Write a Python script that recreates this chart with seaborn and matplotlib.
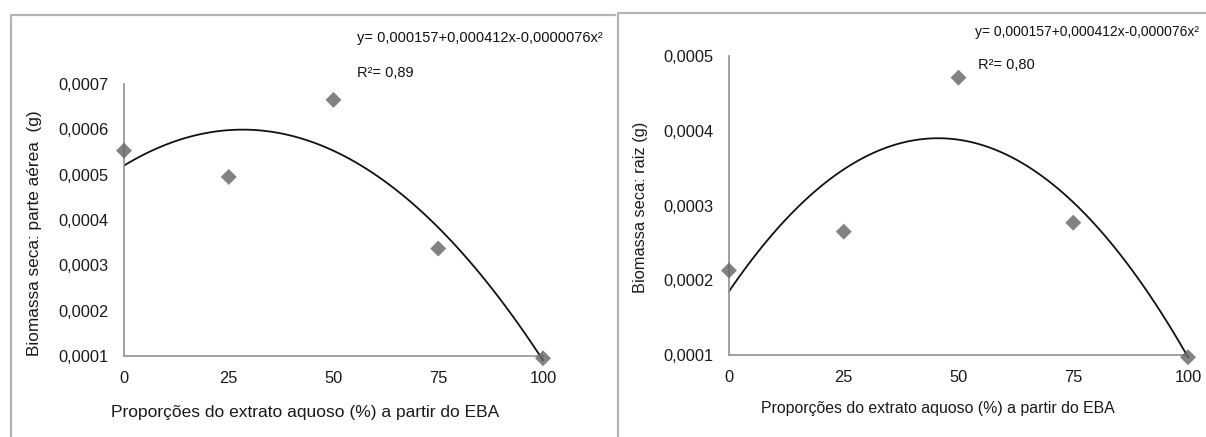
import matplotlib
matplotlib.use("Agg")
import matplotlib.pyplot as plt
from matplotlib.lines import Line2D
from matplotlib.ticker import FuncFormatter
import seaborn as sns
import pandas as pd

# ---- data ----
proporcoes = [0, 25, 50, 75, 100]
parte_aerea = [0.000553, 0.000495, 0.000665, 0.000337, 0.000095]
raiz = [0.000213, 0.000265, 0.000471, 0.000277, 0.000097]
x_ticks = [0, 25, 50, 75, 100]
y_ticks_left = [0.0001, 0.0002, 0.0003, 0.0004, 0.0005, 0.0006, 0.0007]
y_ticks_right = [0.0001, 0.0002, 0.0003, 0.0004, 0.0005]
eq_left = "y= 0,000157+0,000412x-0,0000076x²"
eq_right = "y= 0,000157+0,000412x-0,000076x²"
r2_left = "R²= 0,89"
r2_right = "R²= 0,80"
xlabel = "Proporções do extrato aquoso (%) a partir do EBA"
ylabel_left = "Biomassa seca: parte aérea  (g)"
ylabel_right = "Biomassa seca: raiz (g)"

sns.set_style("white")
plt.rcParams['font.family'] = ['Liberation Sans', 'DejaVu Sans']

W, H = 1206, 437
fig = plt.figure(figsize=(W / 100, H / 100), dpi=100)

def fx(px):
    return px / W

def fy(py):
    return 1 - py / H

frame_kw = dict(transform=fig.transFigure, color='#b4b4b4', linewidth=1.6)
# left panel frame (left + top edges)
fig.lines.append(Line2D([fx(11), fx(11), fx(615)], [fy(440), fy(15), fy(15)], **frame_kw))
# right panel frame (left + top edges)
fig.lines.append(Line2D([fx(618), fx(618), fx(1210)], [fy(440), fy(13), fy(13)], **frame_kw))

ax1 = fig.add_axes([fx(124), fy(356), fx(543) - fx(124), fy(84) - fy(356)])
ax2 = fig.add_axes([fx(729), fy(355), fx(1188) - fx(729), fy(56) - fy(355)])

df = pd.DataFrame({"x": proporcoes, "aerea": parte_aerea, "raiz": raiz})

comma_fmt = FuncFormatter(lambda v, p: f"{v:.4f}".replace(".", ","))

def style(ax, yticks, ylabel, xl_size, yl_size, xl_pos, yl_pos):
    ax.set_xlim(0, 100)
    ax.set_ylim(yticks[0], yticks[-1])
    ax.set_xticks(x_ticks)
    ax.set_yticks(yticks)
    ax.yaxis.set_major_formatter(comma_fmt)
    for s in ['top', 'right']:
        ax.spines[s].set_visible(False)
    for s in ['left', 'bottom']:
        ax.spines[s].set_color('#9a9a9a')
        ax.spines[s].set_linewidth(1.3)
    ax.tick_params(axis='both', direction='out', length=5, width=1.2,
                   color='#9a9a9a', labelsize=11.8, labelcolor='#1a1a1a', pad=6)
    ax.set_xlabel(xlabel, fontsize=xl_size, color='#1a1a1a')
    ax.set_ylabel(ylabel, fontsize=yl_size, color='#1a1a1a')
    ax.xaxis.set_label_coords(*xl_pos)
    ax.yaxis.set_label_coords(*yl_pos)
    ax.patch.set_alpha(0)

# label positions (axes fraction)
specs = [
    (ax1, "aerea", y_ticks_left, ylabel_left, 12.5, 12.4,
     ((305 - 124) / 419, -(412 - 356) / 272), (-(124 - 35) / 419, (356 - 233) / 272)),
    (ax2, "raiz", y_ticks_right, ylabel_right, 11.4, 11.8,
     ((938 - 729) / 459, -(408 - 355) / 299), (-(729 - 640) / 459, (355 - 207) / 299)),
]

for ax, col, yt, yl, xs, ys, xlp, ylp in specs:
    sns.regplot(data=df, x="x", y=col, order=2, ci=None, ax=ax, marker='D',
                scatter_kws=dict(s=66, color='#636363', edgecolor='none',
                                 zorder=5, clip_on=False),
                line_kws=dict(color='#111111', linewidth=1.3, clip_on=False))
    style(ax, yt, yl, xs, ys, xlp, ylp)
    ax.xaxis.label.set_verticalalignment('center')
    ax.yaxis.label.set_verticalalignment('center')

fig.text(fx(357), fy(38), eq_left, fontsize=10.5, color='#111111', va='center')
fig.text(fx(357), fy(73), r2_left, fontsize=10.5, color='#111111', va='center')
fig.text(fx(975), fy(32), eq_right, fontsize=10, color='#111111', va='center')
fig.text(fx(978), fy(65), r2_right, fontsize=10.5, color='#111111', va='center')

fig.savefig("out.png", dpi=100)
